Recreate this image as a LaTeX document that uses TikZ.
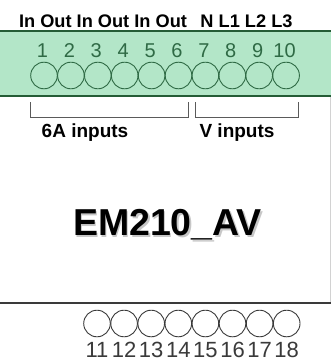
\documentclass[tikz,border=0pt]{standalone}
\usepackage{fontspec}
\setmainfont{Liberation Sans}
\definecolor{bandfill}{HTML}{B3E6C8}
\definecolor{bandline}{HTML}{245C36}
\definecolor{termgreen}{HTML}{2F6A45}
\definecolor{termgray}{HTML}{3A3A3A}
\definecolor{brackgray}{HTML}{5A5A5A}
\tikzset{
  topterm/.style={circle, draw=termgreen, line width=0.9pt, minimum size=26.6pt, inner sep=0pt},
  botterm/.style={circle, draw=termgray, line width=0.9pt, minimum size=26.6pt, inner sep=0pt},
  topnum/.style={font=\fontsize{20}{20}\selectfont, text=termgreen, inner sep=0pt},
  botnum/.style={font=\fontsize{22}{22}\selectfont, text=termgray, inner sep=0pt},
  toplabel/.style={font=\bfseries\fontsize{18.2}{18.2}\selectfont, inner sep=0pt},
  grplabel/.style={font=\bfseries\fontsize{19}{19}\selectfont, inner sep=0pt},
  titlefont/.style={font=\bfseries\fontsize{37.5}{37.5}\selectfont, inner sep=0pt},
  bracket/.style={draw=brackgray, line width=0.9pt},
}
\newcommand{\shadowtext}[1]{\rlap{\kern1.8pt\raisebox{-1.8pt}{\color{black!22}#1}}#1}
\begin{document}
\begin{tikzpicture}[x=1pt, y=-1pt]
\useasboundingbox (0,0) rectangle (331,361);
% housing edges
\draw[gray!35, line width=0.8pt] (330,96) -- (330,303);
\draw[termgray, line width=1.6pt] (0,303) -- (331,303);
% green terminal band
\fill[bandfill] (0,31) rectangle (331,96);
\draw[bandline, line width=1.6pt] (0,31) -- (331,31);
\draw[bandline, line width=2pt] (0,95.5) -- (331,95.5);
% top terminals
\foreach \i in {1,...,10} {
  \node[topterm] (t\i) at ({44+(\i-1)*26.9}, 75.5) {};
  \node[topnum] (n\i) at ({42.5+(\i-1)*26.9}, 50.5) {\i};
}
% top labels
\node[toplabel] (lab1) at (103,21) {In Out In Out In Out};
\node[toplabel] (lab2) at (246.5,21) {N L1 L2 L3};
% brackets
\draw[bracket] (30,102) |- (188,117.5) -- (188,102);
\draw[bracket] (195,102) |- (298,117.5) -- (298,102);
\node[grplabel] (g1) at (85,133) {6A inputs};
\node[grplabel] (g2) at (237,133) {V inputs};
% title with shadow
\node[titlefont] (title) at (167.5,226) {\shadowtext{EM210\_AV}};
% bottom terminals
\foreach \j [count=\k from 0] in {11,...,18} {
  \node[botterm] (b\j) at ({97+\k*27.1}, 323.5) {};
  \node[botnum] (m\j) at ({97+\k*27.1}, 350) {\j};
}
\end{tikzpicture}
\end{document}
